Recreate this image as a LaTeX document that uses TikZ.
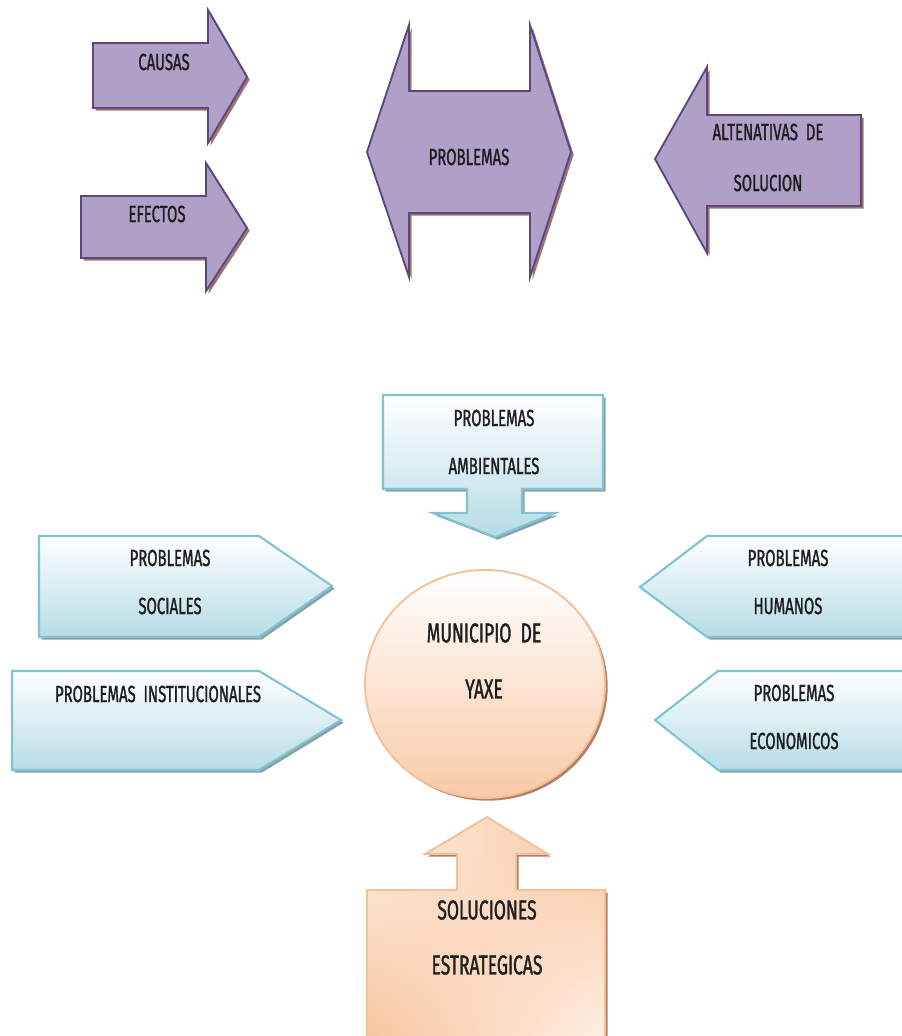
\documentclass[tikz,border=0pt]{standalone}
\usepackage{fontspec}
\setmainfont[FakeStretch=0.64,FakeBold=1.2]{Fira Sans}
\usepackage{tikz}
\usetikzlibrary{shadows,shadings}

\definecolor{lila}{RGB}{176,160,200}
\definecolor{lilaline}{RGB}{92,72,122}
\definecolor{lilashadow}{RGB}{160,115,115}
\definecolor{celeste}{RGB}{182,220,230}
\definecolor{celesteline}{RGB}{128,196,210}
\definecolor{celesteshadow}{RGB}{140,160,168}
\definecolor{durazno}{RGB}{248,196,156}
\definecolor{duraznoline}{RGB}{246,192,150}
\definecolor{duraznoshadow}{RGB}{175,130,110}

\begin{document}
\begin{tikzpicture}[x=0.75pt,y=-0.75pt,
    lbl/.style={font=\fontsize{17.5}{20}\selectfont, text=black!88},
    biglbl/.style={font=\fontsize{20.5}{24}\selectfont, text=black!88},
    purplearrow/.style={fill=lila, draw=lilaline, line width=1.4pt, line join=miter,
        drop shadow={shadow xshift=2pt, shadow yshift=-2pt, fill=lilashadow, opacity=1}},
    bluearrow/.style={top color=white, bottom color=celeste, draw=celesteline, line width=1.6pt,
        drop shadow={shadow xshift=2pt, shadow yshift=-2pt, fill=celesteshadow, opacity=1}},
    orangecircle/.style={top color=white, bottom color=durazno!90, draw=duraznoline, line width=1.4pt,
        drop shadow={shadow xshift=2pt, shadow yshift=-2pt, fill=duraznoshadow, opacity=1}},
    orangearrow/.style={lower left=durazno, upper right=durazno, upper left=durazno!25,
        lower right=durazno!25, draw=duraznoline, line width=1.4pt,
        drop shadow={shadow xshift=2pt, shadow yshift=-2pt, fill=duraznoshadow, opacity=1}}]
    \clip (0,0) rectangle (902,1036);

    % Top row: causas, efectos, problemas, alternativas
    \draw[purplearrow] (93,43) -- (208,43) -- (208,10) -- (247,77) -- (208,143) -- (208,108) -- (93,108) -- cycle;
    \draw[purplearrow] (81,196) -- (206,196) -- (206,163) -- (247,228) -- (206,291) -- (206,258) -- (81,258) -- cycle;
    \draw[purplearrow] (367,152) -- (409,25) -- (409,91) -- (530,91) -- (530,25) -- (571,152)
        -- (530,277) -- (530,213) -- (409,213) -- (409,277) -- cycle;
    \draw[purplearrow] (655,159) -- (707,67) -- (707,115) -- (861,115) -- (861,206) -- (707,206) -- (707,253) -- cycle;

    \node[lbl] (causas) at (164,62) {CAUSAS};
    \node[lbl] (efectos) at (157,214) {EFECTOS};
    \node[lbl] (problemas) at (469,157) {PROBLEMAS};
    \node[lbl] (alt1) at (768,132) {ALTENATIVAS\, DE};
    \node[lbl] (alt2) at (768,183) {SOLUCION};

    % Bottom: municipio and the problem groups around it
    \draw[bluearrow] (383,395) -- (603,395) -- (603,489) -- (522,489) -- (522,513) -- (555,513) -- (495,537)
        -- (433,513) -- (467,513) -- (467,489) -- (383,489) -- cycle;
    \draw[bluearrow] (39,536) -- (259,536) -- (332,586) -- (259,637) -- (39,637) -- cycle;
    \draw[bluearrow] (12,671) -- (259,671) -- (341,720) -- (259,770) -- (12,770) -- cycle;
    \draw[bluearrow] (640,587) -- (707,536) -- (910,536) -- (910,637) -- (707,637) -- cycle;
    \draw[bluearrow] (655,720) -- (718,671) -- (910,671) -- (910,770) -- (718,770) -- cycle;

    \draw[orangecircle] (485,684) ellipse (120 and 114);

    \draw[orangearrow] (367,1045) -- (367,890) -- (457,890) -- (457,854) -- (425,854) -- (487,817)
        -- (548,854) -- (516,854) -- (516,890) -- (605,890) -- (605,1045) -- cycle;

    \node[lbl] (amb1) at (494,418) {PROBLEMAS};
    \node[lbl] (amb2) at (494,466) {AMBIENTALES};
    \node[lbl] (soc1) at (170,558) {PROBLEMAS};
    \node[lbl] (soc2) at (170,606) {SOCIALES};
    \node[lbl] (inst) at (158,694) {PROBLEMAS\, INSTITUCIONALES};
    \node[lbl] (hum1) at (788,558) {PROBLEMAS};
    \node[lbl] (hum2) at (788,606) {HUMANOS};
    \node[lbl] (eco1) at (794,693) {PROBLEMAS};
    \node[lbl] (eco2) at (794,741) {ECONOMICOS};
    \node[biglbl] (mun1) at (484,633) {MUNICIPIO\, DE};
    \node[biglbl] (mun2) at (484,689) {YAXE};
    \node[biglbl] (sol1) at (487,910) {SOLUCIONES};
    \node[biglbl] (sol2) at (487,965) {ESTRATEGICAS};
\end{tikzpicture}
\end{document}
